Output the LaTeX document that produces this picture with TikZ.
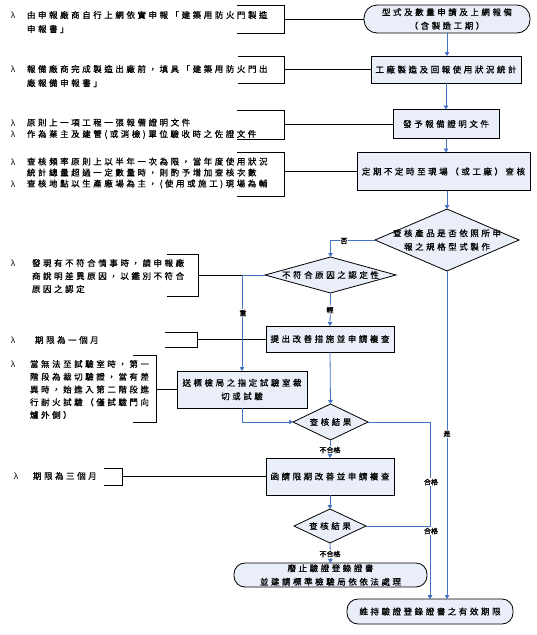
\documentclass[tikz,border=0pt]{standalone}
\usepackage{fontspec}
\setmainfont{Noto Sans CJK TC}
\newfontfamily\cjk[LetterSpace=30,FakeBold=0.8]{Noto Sans CJK TC}
\newfontfamily\labfont[FakeBold=1.2]{Noto Sans CJK TC}
\usetikzlibrary{arrows.meta,shapes.geometric}
\definecolor{boxfill}{RGB}{233,238,248}
\definecolor{flowblue}{RGB}{68,114,196}
\begin{document}
\begin{tikzpicture}[x=1pt,y=-1pt,
  every node/.style={inner sep=0pt, outer sep=0pt},
  txt/.style={font=\cjk\fontsize{8.5}{13.5}\selectfont},
  note/.style={txt, anchor=west, align=left},
  bul/.style={font=\fontsize{8}{10}\selectfont},
  pbox/.style={draw=black, line width=0.8pt, fill=boxfill, txt, align=center},
  rbox/.style={pbox, rounded corners=11pt},
  dia/.style={draw=black, line width=0.8pt, fill=boxfill, diamond},
  dtxt/.style={txt, align=center},
  flow/.style={draw=flowblue, line width=0.8pt, -{Triangle[length=4pt,width=4.5pt]}},
  brk/.style={draw=black, line width=0.8pt},
  lab/.style={fill=white, font=\labfont\fontsize{7}{8}\selectfont, inner sep=0.6pt}
]
\useasboundingbox[fill=white] (0,0) rectangle (537,635);

% ---------- flow boxes ----------
\node[rbox, rounded corners=13pt, minimum width=166pt, minimum height=28pt] (b1) at (447,19) {型式及數量申請及上網報備\\（含製造工期）};
\node[pbox, minimum width=150pt, minimum height=27pt] (b2) at (446,69.5) {工廠製造及回報使用狀況統計};
\node[pbox, minimum width=106pt, minimum height=29pt] (b3) at (446,124) {發予報備證明文件};
\node[pbox, minimum width=173pt, minimum height=38pt] (b4) at (443.5,171.5) {定期不定時至現場（或工廠）查核};
\node[dia, minimum width=144pt, minimum height=62pt,
  label={[dtxt]center:{查核產品是否依照所申\\報之規格型式製作}}] (d1) at (447,240) {};
\node[dia, minimum width=131pt, minimum height=36pt,
  label={[dtxt]center:{不符合原因之認定性}}] (d2) at (330.5,275) {};
\node[pbox, minimum width=128pt, minimum height=26pt] (b5) at (330,339) {提出改善措施並申請複查};
\node[pbox, minimum width=130pt, minimum height=37pt] (b6) at (242,389.5) {送標檢局之指定試驗室裁\\切或試驗};
\node[dia, minimum width=75pt, minimum height=36pt,
  label={[dtxt]center:{查核結果}}] (d3) at (330.5,422) {};
\node[pbox, minimum width=128pt, minimum height=37pt] (b7) at (330,476.5) {函請限期改善並申請複查};
\node[dia, minimum width=72pt, minimum height=34pt,
  label={[dtxt]center:{查核結果}}] (d4) at (330,526) {};
\node[rbox, minimum width=193pt, minimum height=24pt] (b8) at (330.5,575) {廢止驗證登錄證書\\並建請標準檢驗局依依法處理};
\node[rbox, minimum width=166pt, minimum height=25pt] (b9) at (430,611.5) {維持驗證登錄證書之有效期限};

% ---------- notes ----------
\node[bul] (n1b) at (13,15) {λ};
\node[note, font=\cjk\fontsize{8.5}{14}\selectfont] (n1) at (27,22) {由申報廠商自行上網依實申報「建築用防火門製造\\申報書」};
\node[bul] (n2b) at (13,69) {λ};
\node[note, font=\cjk\fontsize{8.5}{14}\selectfont] (n2) at (27,76) {報備廠商完成製造出廠前，填具「建築用防火門出\\廠報備申報書」};
\node[bul] (n3b) at (13,123) {λ};
\node[bul] (n3c) at (13,134.5) {λ};
\node[note, font=\cjk\fontsize{8.5}{11.5}\selectfont] (n3) at (27,128.75) {原則上一項工程一張報備證明文件\\作為業主及建管(或消檢)單位驗收時之佐證文件};
\node[bul] (n4b) at (13,162) {λ};
\node[bul] (n4c) at (13,184) {λ};
\node[note, font=\cjk\fontsize{8.5}{11}\selectfont] (n4) at (27,173) {查核頻率原則上以半年一次為限，當年度使用狀況\\統計總量超過一定數量時，則酌予增加查核次數\\查核地點以生產廠場為主，(使用或施工)現場為輔};
\node[bul] (n5b) at (13,263) {λ};
\node[note, font=\cjk\fontsize{8.5}{13}\selectfont] (n5) at (32,276) {發現有不符合情事時，請申報廠\\商說明差異原因，以鑑別不符合\\原因之認定};
\node[bul] (n6b) at (13,340) {λ};
\node[note] (n6) at (35,340) {期限為一個月};
\node[bul] (n7b) at (13,364) {λ};
\node[note, font=\cjk\fontsize{8.5}{12.75}\selectfont] (n7) at (30,389.5) {當無法至試驗室時，第一\\階段為裁切驗證，當有差\\異時，始進入第二階段進\\行耐火試驗（僅試驗門向\\爐外側）};
\node[bul] (n8b) at (16,476) {λ};
\node[note] (n8) at (33,476) {期限為三個月};

% ---------- brackets ----------
\draw[brk] (237,5) -- (284,5) -- (284,33) -- (237,33);
\coordinate (k1) at (284,19);
\draw[brk] (238,56) -- (284,56) -- (284,83) -- (238,83);
\coordinate (k2) at (284,69.5);
\draw[brk] (237,110) -- (284,110) -- (284,139) -- (237,139);
\coordinate (k3) at (284,124);
\draw[brk] (237,152) -- (284,152) -- (284,196) -- (237,196);
\coordinate (k4) at (284,171.5);
\draw[brk] (167,254) -- (198,254) -- (198,296) -- (167,296);
\coordinate (k5) at (198,275);
\draw[brk] (165,332) -- (197,332) -- (197,347) -- (165,347);
\coordinate (k6) at (197,339);
\draw[brk] (133,355) -- (156,355) -- (156,422) -- (133,422);
\coordinate (k7) at (156,389.5);
\draw[brk] (104,468) -- (122,468) -- (122,485) -- (104,485);
\coordinate (k8) at (122,476.5);

\draw[brk] (k1) -- (b1.west);
\draw[brk] (k2) -- (b2.west);
\draw[brk] (k3) -- (b3.west);
\draw[brk] (k4) -- (b4.west);
\draw[brk] (k5) -- (d2.west);
\draw[brk] (k6) -- (b5.west);
\draw[brk] (k7) -- (b6.west);
\draw[brk] (k8) -- (b7.west);

% ---------- flow connectors ----------
\draw[flow] (b1.south) -- (b1.south |- b2.north);
\draw[flow] (b2.south) -- (b2.south |- b3.north);
\draw[flow] (b3.south) -- (b3.south |- b4.north);
\draw[flow] (b4.south -| d1.north) -- (d1.north);
\draw[flow] (d1.west) -| (d2.north);
\draw[flow] (d2.west) -| (b6.north);
\draw[flow] (d2.south) -- (b5.north);
\draw[flow] (b5.south) -- (d3.north);
\draw[flow] (b6.south) |- (d3.west);
\draw[flow] (d3.east) -| (b9.north);
\draw[flow] (d3.south) -- (b7.north);
\draw[flow] (b7.south) -- (d4.north);
\draw[flow] (d4.east) -| (b9.north);
\draw[flow] (d4.south) -- (b8.north);
\draw[flow] (d1.south) -- (d1.south |- b9.north);

% ---------- labels ----------
\node[lab] (l1) at (344,241) {否};
\node[lab] (l2) at (243,313) {重};
\node[lab] (l3) at (330,310) {輕};
\node[lab] (l4) at (447,434) {是};
\node[lab] (l5) at (431,482) {合格};
\node[lab] (l6) at (330,450) {不合格};
\node[lab] (l7) at (431,531) {合格};
\node[lab] (l8) at (330,554) {不合格};
\end{tikzpicture}
\end{document}
